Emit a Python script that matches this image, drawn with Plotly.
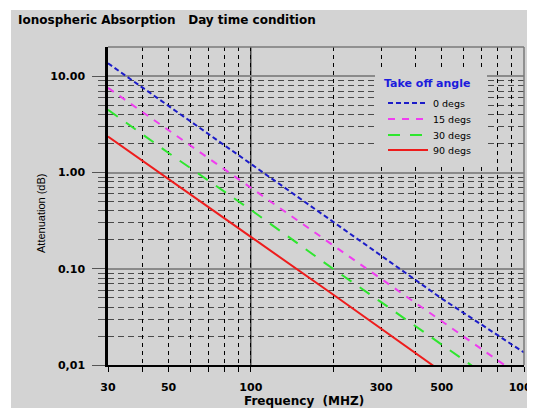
import math
import plotly.graph_objects as go

# ---------------- data ----------------
freq_mhz = [30, 50, 100, 200, 300, 500, 1000]
att_0deg = [13.7, 4.95, 1.23, 0.31, 0.137, 0.049, 0.0135]
att_15deg = [7.6, 2.75, 0.70, 0.175, 0.078, 0.028, 0.0072]
att_30deg = [4.5, 1.6, 0.41, 0.10, 0.045, 0.0163, 0.0041]
att_90deg = [2.37, 0.85, 0.215, 0.054, 0.024, 0.0086, 0.0021]

series_names = ["0 degs", "15 degs", "30 degs", "90 degs"]
series_values = [att_0deg, att_15deg, att_30deg, att_90deg]

x_tick_vals = [30, 40, 50, 60, 70, 80, 90, 100, 200, 300, 400, 500, 600, 700, 800, 900, 1000]
x_tick_text = ["30", "", "50", "", "", "", "", "100", "", "300", "", "500", "", "", "", "", "1000"]
x_major_grid = [100]
y_tick_vals = [0.01, 0.1, 1, 10]
y_tick_text = ["0,01", "0.10", "1.00", "10.00"]
y_minor_vals = [round(m * d, 4) for d in (0.01, 0.1, 1) for m in range(2, 10)]

# ---------------- styles ----------------
series_colors = ["#1c1cc8", "#f03cf0", "#2ee62e", "#ee1c1c"]
series_dash = ["5px,3px", "7px,7px", "12px,10px", "solid"]
BG = "#d3d3d3"
BOLD = dict(family="DejaVu Sans", size=11, color="black", weight="bold")

# page offset (body margin) and plot-area geometry in screenshot pixels
OFF = 8
L, R, T, B = 108, 524, 47, 365
W, H = 535, 408
PW, PH = R - L, B - T


def px(x):
    return (x - L) / PW


def py(y):
    return (B - y) / PH


fig = go.Figure()
legend_ids = ["legend", "legend2", "legend3", "legend4"]
for name, vals, col, dash, lid in zip(series_names, series_values, series_colors, series_dash, legend_ids):
    fig.add_trace(go.Scatter(
        x=freq_mhz, y=vals, mode="lines", name=name,
        line=dict(color=col, width=2, dash=dash),
        legend=lid, showlegend=True,
    ))

legend_y_px = [103, 119, 135, 150]
legend_layout = {}
for lid, ypx in zip(legend_ids, legend_y_px):
    legend_layout[lid] = dict(
        x=px(383), xanchor="left", y=py(ypx), yanchor="middle",
        bgcolor="rgba(0,0,0,0)", borderwidth=0,
        font=dict(family="DejaVu Sans", size=9.5, color="black"),
        itemwidth=40, tracegroupgap=0, visible=True,
    )

shapes = [
    # window background
    dict(type="rect", xref="paper", yref="paper", x0=px(11), x1=px(W + 20), y0=py(10), y1=py(H + 20),
         fillcolor=BG, line=dict(width=0), layer="below"),
]
for xv in x_major_grid:
    shapes.append(dict(type="line", xref="x", yref="paper", x0=xv, x1=xv, y0=0, y1=1,
                       line=dict(color="black", width=1), layer="below"))
shapes += [
    # legend box (hides the grid; no curve passes there)
    dict(type="rect", xref="paper", yref="paper", x0=px(375), x1=px(487), y0=py(166), y1=py(67),
         fillcolor=BG, line=dict(width=0), layer="above"),
    # top / right frame
    dict(type="line", xref="paper", yref="paper", x0=0, x1=1, y0=1, y1=1,
         line=dict(color="#7a7a7a", width=1.5), layer="above"),
    dict(type="line", xref="paper", yref="paper", x0=1, x1=1, y0=0, y1=1,
         line=dict(color="#7a7a7a", width=1.5), layer="above"),
]

annotations = [
    dict(text="Ionospheric Absorption \u00a0 Day time condition", xref="paper", yref="paper",
         x=px(16), y=py(20), xanchor="left", yanchor="middle", showarrow=False,
         font=dict(family="DejaVu Sans", size=12, color="black", weight="bold")),
    dict(text="Frequency \u00a0(MHZ)", xref="paper", yref="paper", x=px(304), y=py(401),
         xanchor="center", yanchor="middle", showarrow=False,
         font=dict(family="DejaVu Sans", size=12, color="black", weight="bold")),
    dict(text="Attenuation (dB)", xref="paper", yref="paper", x=px(41), y=py(213),
         xanchor="center", yanchor="middle", showarrow=False, textangle=-90,
         font=dict(family="Liberation Sans", size=11, color="black")),
    dict(text="Take off angle", xref="paper", yref="paper", x=px(382), y=py(83),
         xanchor="left", yanchor="middle", showarrow=False,
         font=dict(family="DejaVu Sans", size=11, color="#1c1cdc", weight="bold")),
]

fig.update_layout(
    width=W, height=H,
    margin=dict(l=L - OFF, r=W - (R - OFF), t=T - OFF, b=H - (B - OFF), pad=0, autoexpand=False),
    paper_bgcolor="white", plot_bgcolor="rgba(0,0,0,0)",
    showlegend=True,
    xaxis=dict(
        type="log", range=[math.log10(30), 3], automargin=False,
        tickmode="array", tickvals=x_tick_vals, ticktext=x_tick_text,
        ticks="outside", ticklen=5, tickcolor="black", tickwidth=1,
        showgrid=True, gridcolor="black", griddash="4px,4px", gridwidth=1,
        showline=True, linecolor="black", linewidth=2, zeroline=False,
        tickfont=BOLD, ticklabelstandoff=6,
    ),
    yaxis=dict(
        type="log", range=[-2, 1.306], automargin=False,
        tickmode="array", tickvals=y_tick_vals, ticktext=y_tick_text,
        ticks="outside", ticklen=13, tickcolor="#555", tickwidth=1,
        showgrid=True, gridcolor="#8a8a8a", gridwidth=2,
        showline=True, linecolor="black", linewidth=2.5, zeroline=False,
        tickfont=BOLD, ticklabelstandoff=5,
        minor=dict(tickmode="array", tickvals=y_minor_vals, ticks="outside", ticklen=7,
                   tickcolor="#555", tickwidth=1, showgrid=True, gridcolor="#4a4a4a",
                   griddash="6px,4px", gridwidth=1),
    ),
    shapes=shapes,
    annotations=annotations,
    **legend_layout,
)

fig.write_html("out.html")
